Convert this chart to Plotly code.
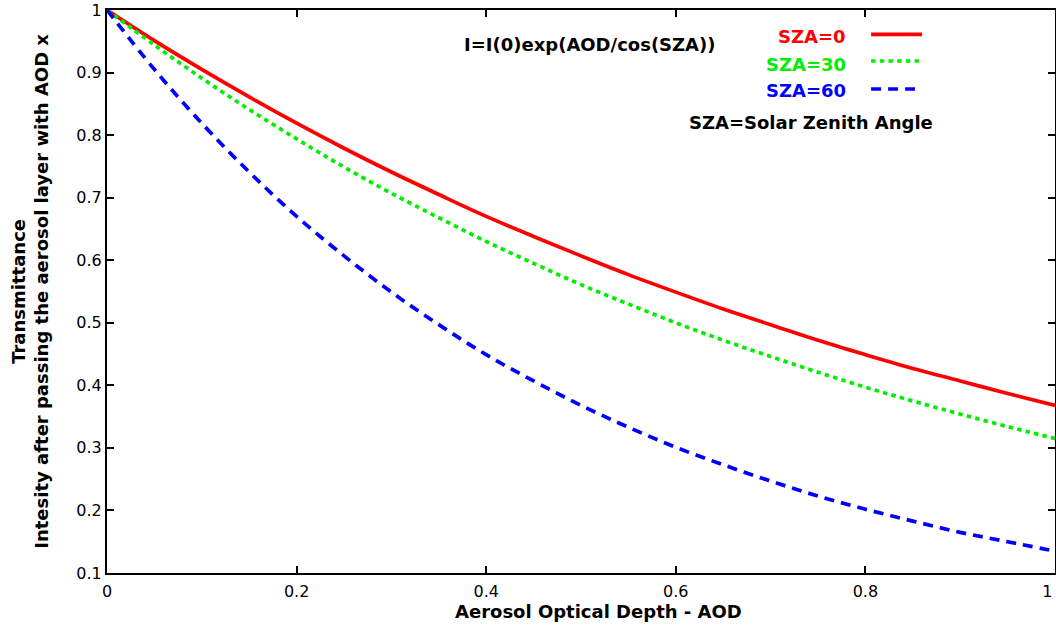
import plotly.graph_objects as go

aod = [0.00, 0.05, 0.10, 0.15, 0.20, 0.25, 0.30, 0.35, 0.40, 0.45, 0.50,
       0.55, 0.60, 0.65, 0.70, 0.75, 0.80, 0.85, 0.90, 0.95, 1.00]
sza0 = [1.000, 0.951, 0.905, 0.861, 0.819, 0.779, 0.741, 0.705, 0.670, 0.638, 0.607,
        0.577, 0.549, 0.522, 0.497, 0.472, 0.449, 0.427, 0.407, 0.387, 0.368]
sza30 = [1.000, 0.944, 0.891, 0.841, 0.794, 0.749, 0.707, 0.668, 0.630, 0.595, 0.561,
         0.530, 0.500, 0.472, 0.446, 0.421, 0.397, 0.375, 0.354, 0.334, 0.315]
sza60 = [1.000, 0.905, 0.819, 0.741, 0.670, 0.607, 0.549, 0.497, 0.449, 0.407, 0.368,
         0.333, 0.301, 0.273, 0.247, 0.223, 0.202, 0.183, 0.165, 0.150, 0.135]

x_ticks = [0, 0.2, 0.4, 0.6, 0.8, 1.0]
x_ticklabels = ["0", "0.2", "0.4", "0.6", "0.8", "1&nbsp;&nbsp;&nbsp;"]
y_ticks = [0.1, 0.2, 0.3, 0.4, 0.5, 0.6, 0.7, 0.8, 0.9, 1.0]
y_ticklabels = ["0.1", "0.2", "0.3", "0.4", "0.5", "0.6", "0.7", "0.8", "0.9", "1"]

series_names = ["SZA=0", "SZA=30", "SZA=60"]
colors = ["#ff0000", "#00ee00", "#0000ff"]
dashes = ["solid", "4.5px,4.2px", "10px,7px"]

FONT = "DejaVu Sans, Verdana, sans-serif"
fig = go.Figure()
for ys, name, c, d in zip([sza0, sza30, sza60], series_names, colors, dashes):
    fig.add_trace(go.Scatter(x=aod, y=ys, mode="lines", name=name,
                             line=dict(color=c, width=3.7, dash=d, shape="spline"),
                             showlegend=False))

# Legend (gnuplot style: coloured text left of sample line)
leg_text_y = [0.953, 0.904, 0.857]
leg_line_y = [0.9568, 0.9094, 0.8597]
leg_x2 = [0.8597, 0.8576, 0.8523]
for name, c, d, ty, ly, x2 in zip(series_names, colors, dashes, leg_text_y, leg_line_y, leg_x2):
    fig.add_annotation(x=0.7816, y=ty, xref="paper", yref="paper", text="<b>%s</b>" % name,
                       showarrow=False, xanchor="right", yanchor="middle",
                       font=dict(family=FONT, size=18, color=c))
    fig.add_shape(type="line", xref="paper", yref="paper", x0=0.806, x1=x2, y0=ly, y1=ly,
                  line=dict(color=c, width=3.7, dash=d))

fig.add_annotation(x=0.8734, y=0.7993, xref="paper", yref="paper",
                   text="<b>SZA=Solar Zenith Angle</b>", showarrow=False,
                   xanchor="right", yanchor="middle", font=dict(family=FONT, size=18, color="black"))
fig.add_annotation(x=0.3745, y=0.9396, xref="paper", yref="paper",
                   text="<b>I=I(0)exp(AOD/cos(SZA))</b>", showarrow=False,
                   xanchor="left", yanchor="middle", font=dict(family=FONT, size=18, color="black"))
fig.add_annotation(x=0.518, y=-0.069, xref="paper", yref="paper",
                   text="<b>Aerosol Optical Depth - AOD</b>", showarrow=False,
                   xanchor="center", yanchor="middle", font=dict(family=FONT, size=18, color="black"))
fig.add_annotation(x=-0.082, y=0.5, xref="paper", yref="paper",
                   text="<b>Transmittance<br>Intesity after passing the aerosol layer with AOD x</b>",
                   showarrow=False, textangle=-90, xanchor="center", yanchor="middle",
                   font=dict(family=FONT, size=18, color="black"))

axis_common = dict(showline=True, linecolor="black", linewidth=2, mirror="allticks",
                   ticks="inside", ticklen=7, tickwidth=1.5, tickcolor="black",
                   showgrid=False, zeroline=False, ticklabeloverflow="allow",
                   automargin=False,
                   tickfont=dict(family=FONT, size=16, color="black"))
fig.update_xaxes(range=[0, 1], tickvals=x_ticks, ticktext=x_ticklabels, ticklabelstandoff=3,
                 **axis_common)
fig.update_yaxes(range=[0.1, 1], tickvals=y_ticks, ticktext=y_ticklabels, **axis_common)
fig.update_layout(width=1056, height=627, margin=dict(l=107, r=1, t=10, b=54),
                  plot_bgcolor="white", paper_bgcolor="white")
fig.write_html("out.html", config={"displayModeBar": False},
               post_script="document.body.style.margin='0';")
